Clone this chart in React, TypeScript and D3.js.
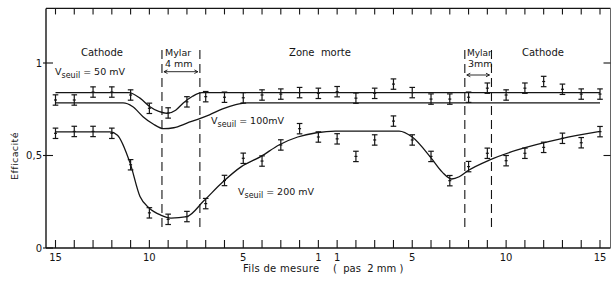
import React from "react";
import * as d3 from "d3";

// wire index 0..29 : left side 15..1, right side 1..15
const wireLabels = ["15", "14", "13", "12", "11", "10", "9", "8", "7", "6", "5", "4", "3", "2", "1",
  "1", "2", "3", "4", "5", "6", "7", "8", "9", "10", "11", "12", "13", "14", "15"];
const shownLabels = ["15", "10", "5", "1"];
const yTicks = [0, 0.5, 1];
const yTickLabels = ["0", "0,5", "1"];

// measured points (upper group: 50 mV / 100 mV)
const pointsTop = [0.80, 0.80, 0.843, 0.843, 0.827, 0.755, 0.73, 0.79, 0.818, 0.815,
  0.812, 0.827, 0.832, 0.84, 0.836, 0.845, 0.81, 0.836, 0.886, 0.84,
  0.805, 0.805, 0.815, 0.864, 0.827, 0.864, 0.9, 0.858, 0.832, 0.832];
// measured points 200 mV
const points200 = [0.62, 0.63, 0.63, 0.62, 0.45, 0.19, 0.155, 0.17, 0.24, 0.365,
  0.485, 0.47, 0.557, 0.645, 0.60, 0.59, 0.495, 0.584, 0.686, 0.584,
  0.495, 0.364, 0.44, 0.512, 0.472, 0.512, 0.544, 0.593, 0.569, 0.629];
const errHalf = 0.028;

// fitted curves (knots in wire-index units)
const curve50Idx = [0, 3.9, 4.5, 5.03, 5.5, 5.94, 6.4, 6.79, 7.3, 7.8, 29];
const curve50Val = [0.84, 0.84, 0.81, 0.764, 0.738, 0.728, 0.745, 0.782, 0.82, 0.84, 0.84];
const curve100Idx = [0, 3.6, 4.1, 4.66, 5.2, 5.75, 6.3, 7.0, 8.2, 8.9, 9.6, 10.2, 29];
const curve100Val = [0.784, 0.784, 0.765, 0.71, 0.67, 0.645, 0.65, 0.675, 0.72, 0.752, 0.775, 0.784, 0.784];
const curve200Idx = [0, 2.9, 3.3, 3.97, 4.5, 5.0, 5.6, 6.15, 7.0, 7.9, 8.92, 9.9, 10.95, 11.9, 12.9, 13.9, 14.9,
  18.3, 19.0, 20.0, 20.6, 21.1, 21.5, 22.0, 23.1, 24.6, 26.9, 29];
const curve200Val = [0.628, 0.628, 0.61, 0.46, 0.278, 0.215, 0.178, 0.162, 0.17, 0.255, 0.358, 0.44, 0.495, 0.557,
  0.60, 0.623, 0.632, 0.632, 0.60, 0.487, 0.41, 0.373, 0.385, 0.42, 0.475, 0.53, 0.59, 0.63];

// Mylar boundaries (wire-index units)
const mylarLeft = [5.67, 7.69];
const mylarRight = [21.8, 23.22];
const dashTop = 1.07;
const dashBottom = 0.097;

const W = 614, H = 284;
const INK = "#151515";
const FONT = "'DejaVu Sans', 'Liberation Sans', Arial, sans-serif";

export default function App() {
  const x = d3.scaleLinear().domain([0, 29]).range([55.5, 600]);
  const y = d3.scaleLinear().domain([0, 1]).range([248, 63]);
  const left = 46, right = 610.5, top = y(1.295), bottom = y(0);

  const mk = (idx: number[], val: number[]) =>
    d3.line<number>().x((_, i) => x(idx[i])).y((v) => y(v)).curve(d3.curveMonotoneX)(val) || "";

  const idxs = d3.range(wireLabels.length);

  const errBar = (v: number, i: number, key: string) => {
    const cx = x(i);
    const y1 = y(v + errHalf), y2 = y(v - errHalf);
    return (
      <g key={key} stroke={INK} strokeWidth={1.2}>
        <line x1={cx} x2={cx} y1={y1} y2={y2} />
        <line x1={cx - 2.8} x2={cx + 2.8} y1={y1} y2={y1} />
        <line x1={cx - 2.8} x2={cx + 2.8} y1={y2} y2={y2} />
        <line x1={cx - 1.5} x2={cx + 1.5} y1={y(v)} y2={y(v)} />
      </g>
    );
  };

  const vlabel = (xx: number, yy: number, rest: string) => (
    <text x={xx} y={yy} fontSize={9.5} fontFamily={FONT} fill={INK}>
      V<tspan fontSize={8} dy={2.5}>seuil</tspan><tspan dy={-2.5}>{rest}</tspan>
    </text>
  );

  const arrow = (x1: number, x2: number, yy: number) => (
    <g stroke={INK} strokeWidth={0.9} fill="none">
      <line x1={x1} x2={x2} y1={yy} y2={yy} />
      <path d={`M${x1 + 3.5},${yy - 1.8} L${x1},${yy} L${x1 + 3.5},${yy + 1.8}`} />
      <path d={`M${x2 - 3.5},${yy - 1.8} L${x2},${yy} L${x2 - 3.5},${yy + 1.8}`} />
    </g>
  );

  return (
    <svg width={W} height={H} style={{ position: "absolute", left: 0, top: 0, background: "#fff" }}>
      {/* frame */}
      <g stroke={INK} fill="none">
        <line x1={left} x2={left} y1={top} y2={bottom} strokeWidth={1.4} />
        <line x1={left} x2={right} y1={bottom} y2={bottom} strokeWidth={1.4} />
        <line x1={left} x2={right} y1={top} y2={top} strokeWidth={1.2} />
        <line x1={right} x2={right} y1={top} y2={bottom} strokeWidth={0.9} stroke="#555" />
      </g>
      {/* x ticks bottom & top */}
      <g stroke={INK} strokeWidth={1.1}>
        {idxs.map((i) => (
          <g key={"t" + i}>
            <line x1={x(i)} x2={x(i)} y1={bottom} y2={bottom - 8} />
            <line x1={x(i)} x2={x(i)} y1={top} y2={top + 6} />
          </g>
        ))}
        {yTicks.map((t, k) => (
          <g key={"yt" + k}>
            <line x1={left - 3} x2={left + 7} y1={y(t)} y2={y(t)} />
            {t > 0 && <line x1={right} x2={right - 7} y1={y(t)} y2={y(t)} />}
          </g>
        ))}
      </g>
      {/* x tick labels */}
      <g fontSize={10} fontFamily={FONT} fill={INK} textAnchor="middle">
        {idxs.filter((i) => shownLabels.includes(wireLabels[i])).map((i) => (
          <text key={"xl" + i} x={x(i)} y={261}>{wireLabels[i]}</text>
        ))}
      </g>
      {/* y tick labels */}
      <g fontSize={10} fontFamily={FONT} fill={INK} textAnchor="end">
        {yTicks.map((t, k) => (
          <text key={"yl" + k} x={42} y={y(t) + 3.5}>{yTickLabels[k]}</text>
        ))}
      </g>
      {/* axis titles */}
      <text x={15} y={156} transform="rotate(-90 15 156)" textAnchor="middle" fontSize={9.5}
        fontFamily={FONT} fill={INK} dominantBaseline="middle" letterSpacing={0.4}>Efficacité</text>
      <text x={243} y={272} fontSize={10} fontFamily={FONT} fill={INK} letterSpacing={0.3}>Fils de mesure</text>
      <text x={333} y={272} fontSize={10} fontFamily={FONT} fill={INK} xmlSpace="preserve">(  pas  2 mm )</text>

      {/* Mylar dashed boundaries */}
      <g stroke={INK} strokeWidth={1.1} strokeDasharray="9,5">
        {[...mylarLeft, ...mylarRight].map((b, k) => (
          <line key={"m" + k} x1={x(b)} x2={x(b)} y1={y(dashTop)} y2={y(dashBottom)} />
        ))}
      </g>
      {arrow(x(mylarLeft[0]) + 2, x(mylarLeft[1]) - 2, 71.7)}
      {arrow(x(mylarRight[0]) + 2, x(mylarRight[1]) - 2, 75)}

      {/* curves */}
      <g fill="none" stroke={INK} strokeWidth={1.3}>
        <path d={mk(curve50Idx, curve50Val)} />
        <path d={mk(curve100Idx, curve100Val)} />
        <path d={mk(curve200Idx, curve200Val)} />
      </g>

      {/* points */}
      {pointsTop.map((v, i) => errBar(v, i, "pt" + i))}
      {points200.map((v, i) => errBar(v, i, "p2" + i))}

      {/* region labels */}
      <g fontSize={10} fontFamily={FONT} fill={INK}>
        <text x={102} y={56} textAnchor="middle">Cathode</text>
        <text x={165} y={56} fontSize={9.5}>Mylar</text>
        <text x={165} y={67} fontSize={9.5}>4 mm</text>
        <text x={320} y={56} textAnchor="middle" xmlSpace="preserve">Zone  morte</text>
        <text x={467} y={56} fontSize={9}>Mylar</text>
        <text x={468} y={67} fontSize={9.5}>3mm</text>
        <text x={543} y={56} textAnchor="middle">Cathode</text>
      </g>
      {vlabel(55, 75, " = 50 mV")}
      {vlabel(211, 124, " = 100mV")}
      {vlabel(238, 195, " = 200 mV")}
    </svg>
  );
}
